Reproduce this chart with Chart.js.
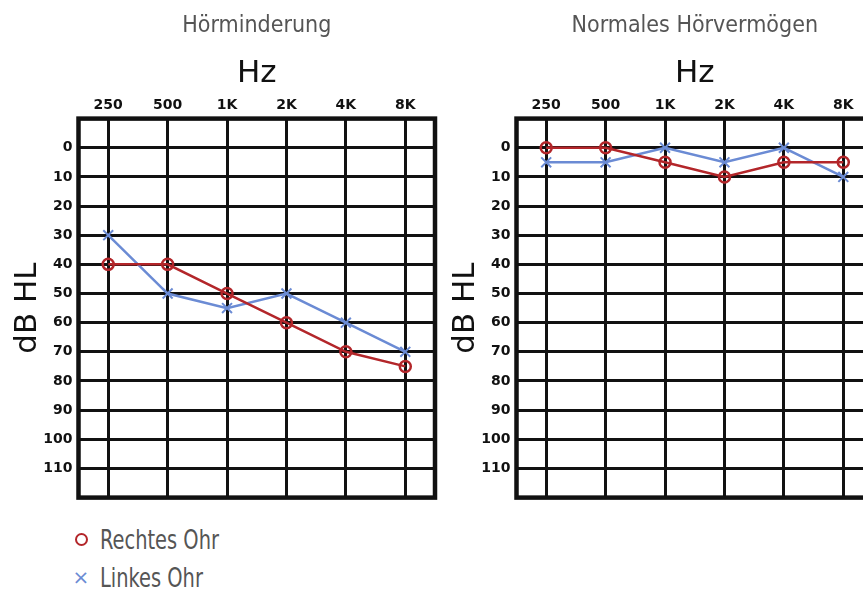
<!DOCTYPE html>
<html>
<head>
<meta charset="utf-8">
<script src="https://cdn.jsdelivr.net/npm/chart.js@4.4.1/dist/chart.umd.min.js"></script>
<style>
  body { margin: 0; background: #fff; overflow: hidden; width: 863px; height: 589px; position: relative; }
  canvas { position: absolute; top: 0; }
  #leftChart { left: 0; }
  #rightChart { left: 438px; }
  #legend { position: absolute; left: 70px; top: 520px; font-family: 'DejaVu Sans Condensed', 'Liberation Sans Narrow', sans-serif; font-size: 27px; color: #555; }
  .item { height: 38px; display: flex; align-items: center; }
  .mark { width: 22px; margin-right: 8px; text-align: center; font-family: 'DejaVu Sans', sans-serif; font-size: 20px; }
  .ring { display: inline-block; width: 9px; height: 9px; border-radius: 50%; border: 2.5px solid; }
  .label { display: inline-block; transform: scaleX(0.8); transform-origin: left center; }
</style>
</head>
<body>
<canvas id="leftChart" width="452" height="512"></canvas>
<canvas id="rightChart" width="452" height="512"></canvas>
<div id="legend"></div>
<script>
const frequencies = ['250', '500', '1K', '2K', '4K', '8K'];
const dbMin = -10;
const dbMax = 120;
const dbLabelMin = 0;
const dbLabelMax = 110;

const lossRight = [40, 40, 50, 60, 70, 75];
const lossLeft = [30, 50, 55, 50, 60, 70];
const normalRight = [0, 0, 5, 10, 5, 5];
const normalLeft = [5, 5, 0, 5, 0, 10];

const red = '#b3262a';
const blue = '#6b8bd4';
const narrow = "'DejaVu Sans Condensed', 'Liberation Sans Narrow', sans-serif";

// frame round the plot area
const frame = {
    id: 'frame',
    beforeDatasetsDraw(chart) {
        const a = chart.chartArea;
        const ctx = chart.ctx;
        ctx.save();
        ctx.strokeStyle = '#111';
        ctx.lineWidth = 4.5;
        ctx.strokeRect(a.left, a.top, a.right - a.left, a.bottom - a.top);
        ctx.restore();
    }
};

function makeChart(id, title, rightEar, leftEar) {
    return new Chart(document.getElementById(id), {
        type: 'line',
        data: {
            labels: frequencies,
            datasets: [
                {
                    label: 'Rechtes Ohr',
                    data: rightEar,
                    borderColor: red,
                    borderWidth: 2.5,
                    pointStyle: 'circle',
                    pointRadius: 5.5,
                    pointBorderWidth: 2.5,
                    pointBackgroundColor: 'rgba(0,0,0,0)',
                    pointBorderColor: red
                },
                {
                    label: 'Linkes Ohr',
                    data: leftEar,
                    borderColor: blue,
                    borderWidth: 2.5,
                    pointStyle: 'crossRot',
                    pointRadius: 7,
                    pointBorderWidth: 2,
                    pointBorderColor: blue
                }
            ]
        },
        options: {
            responsive: false,
            animation: false,
            layout: { padding: { top: 0, left: 0, right: 17, bottom: 12 } },
            plugins: {
                legend: { display: false },
                tooltip: { enabled: false },
                title: {
                    display: true,
                    text: title,
                    fullSize: false,
                    color: '#555',
                    font: { family: narrow, size: 23, weight: 'normal' },
                    padding: { top: 12, bottom: 4 }
                }
            },
            scales: {
                x: {
                    type: 'category',
                    position: 'top',
                    offset: true,
                    afterFit(scale) { scale.height = 75; },
                    grid: { color: '#111', lineWidth: 3, drawTicks: false, offset: false },
                    border: { display: false },
                    ticks: {
                        color: '#111',
                        padding: 5,
                        font: { family: 'DejaVu Sans', size: 14, weight: 'bold' }
                    },
                    title: {
                        display: true,
                        text: 'Hz',
                        color: '#111',
                        font: { family: 'DejaVu Sans', size: 31 },
                        padding: { top: 12, bottom: 0 }
                    }
                },
                y: {
                    type: 'linear',
                    reverse: true,
                    min: dbMin,
                    max: dbMax,
                    afterFit(scale) { scale.width = 78.5; },
                    grid: { color: '#111', lineWidth: 3, drawTicks: false },
                    border: { display: false },
                    ticks: {
                        stepSize: 10,
                        color: '#111',
                        padding: 6,
                        font: { family: 'DejaVu Sans', size: 14, weight: 'bold' },
                        callback: v => (v >= dbLabelMin && v <= dbLabelMax) ? String(v) : ''
                    },
                    title: {
                        display: true,
                        text: 'dB HL',
                        color: '#111',
                        font: { family: 'DejaVu Sans', size: 31 },
                        padding: { top: 9, bottom: 0 }
                    }
                }
            }
        },
        plugins: [frame]
    });
}

const lossChart = makeChart('leftChart', 'Hörminderung', lossRight, lossLeft);
makeChart('rightChart', 'Normales Hörvermögen', normalRight, normalLeft);

// legend below the left chart, built from its datasets
const legend = document.getElementById('legend');
lossChart.data.datasets.forEach(ds => {
    const row = document.createElement('div');
    row.className = 'item';
    const mark = document.createElement('span');
    mark.className = 'mark';
    if (ds.pointStyle === 'circle') {
        mark.innerHTML = '<span class="ring"></span>';
        mark.firstChild.style.borderColor = ds.borderColor;
    } else {
        mark.textContent = '×';
        mark.style.color = ds.borderColor;
    }
    const text = document.createElement('span');
    text.className = 'label';
    text.textContent = ds.label;
    row.appendChild(mark);
    row.appendChild(text);
    legend.appendChild(row);
});
</script>
</body>
</html>
